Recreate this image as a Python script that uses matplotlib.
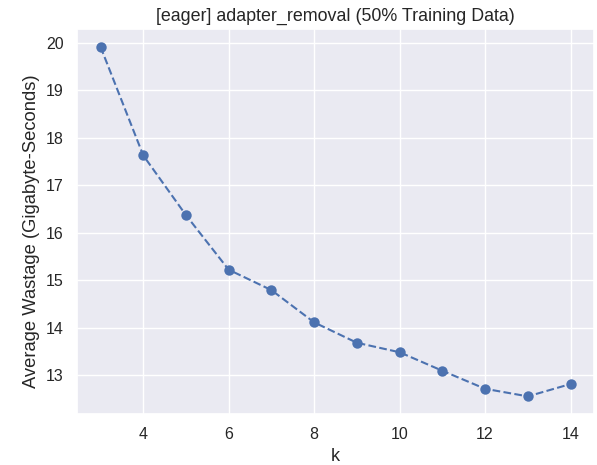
import matplotlib
matplotlib.use('Agg')
import matplotlib.pyplot as plt
import seaborn as sns

# 数据
k_values = [3, 4, 5, 6, 7, 8, 9, 10, 11, 12, 13, 14]
avg_wastage = [19.92, 17.63, 16.37, 15.22, 14.79, 14.11, 13.68, 13.48, 13.09, 12.71, 12.55, 12.81]

sns.set_theme(style='darkgrid')
plt.rcParams['font.family'] = ['Liberation Sans', 'DejaVu Sans']

fig, ax = plt.subplots(figsize=(5.97, 4.65), dpi=100)
ax.plot(k_values, avg_wastage, linestyle='--', marker='o', color='#4c72b0',
        markersize=7.5, markeredgecolor='#4c72b0', markeredgewidth=0)
ax.set_title('[eager] adapter_removal (50% Training Data)', fontsize=12.9)
ax.set_xlabel('k', fontsize=13)
ax.set_ylabel('Average Wastage (Gigabyte-Seconds)', fontsize=13.2)
ax.yaxis.set_label_coords(-0.072, 0.475)
ax.set_xticks([4, 6, 8, 10, 12, 14])
ax.tick_params(labelsize=11.5)
fig.subplots_adjust(left=0.129, right=0.995, top=0.937, bottom=0.11)
fig.savefig('out.png', dpi=100)
